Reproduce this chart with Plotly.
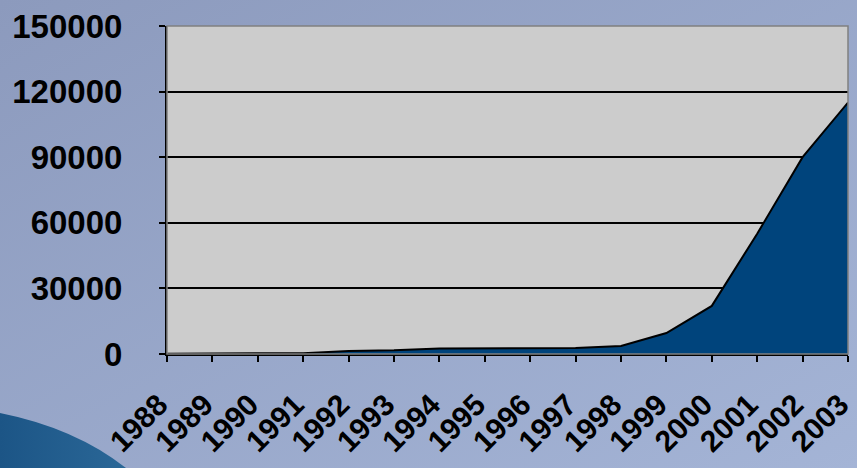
import base64
import plotly.graph_objects as go

years = [str(y) for y in range(1988, 2004)]
values = [100, 150, 200, 400, 1400, 1700, 2500, 2600, 2600, 2700, 3700, 9600, 22000, 55000, 90000, 115000]
y_ticks = [0, 30000, 60000, 90000, 120000, 150000]

W, H = 857, 468
L, R, T, B = 167, 9, 26, 114
pw, ph = W - L - R, H - T - B

bg_svg = f'''<svg xmlns="http://www.w3.org/2000/svg" width="{W}" height="{H}" viewBox="0 0 {W} {H}" preserveAspectRatio="none">
<defs>
<linearGradient id="g" x1="0" y1="0" x2="1" y2="1">
<stop offset="0" stop-color="#8C9ABD"/>
<stop offset="1" stop-color="#A4B4D6"/>
</linearGradient>
<linearGradient id="s" x1="0" y1="0" x2="1" y2="0">
<stop offset="0" stop-color="#1C5586"/>
<stop offset="1" stop-color="#2A6797"/>
</linearGradient>
</defs>
<rect x="0" y="0" width="{W}" height="{H}" fill="url(#g)"/>
<path d="M0,413 Q75,428 126,468 L0,468 Z" fill="url(#s)"/>
</svg>'''
bg_src = "data:image/svg+xml;base64," + base64.b64encode(bg_svg.encode()).decode()

fig = go.Figure()
fig.add_trace(go.Scatter(
    x=years, y=values, mode="lines", fill="tozeroy",
    fillcolor="#00447C", line=dict(color="black", width=2),
    hoverinfo="skip", showlegend=False,
))

font = dict(family="Liberation Sans, Arial", size=33, color="black", weight="bold")

fig.update_layout(
    width=W, height=H,
    margin=dict(l=L, r=R, t=T, b=B, autoexpand=False),
    paper_bgcolor="#98A7C8",
    plot_bgcolor="rgba(0,0,0,0)",
    images=[dict(source=bg_src, xref="paper", yref="paper",
                 x=-L / pw, y=1 + T / ph, sizex=W / pw, sizey=H / ph,
                 xanchor="left", yanchor="top", sizing="stretch", layer="below")],
    shapes=[
        dict(type="rect", xref="paper", yref="paper", x0=0, x1=1, y0=0, y1=1,
             fillcolor="#CCCCCC", line=dict(width=0), layer="below"),
        dict(type="rect", xref="paper", yref="paper", x0=0, x1=1, y0=0, y1=1,
             line=dict(color="#808080", width=1.5), layer="above"),
    ],
    xaxis=dict(
        type="category", range=[0, len(years) - 1], automargin=False,
        showgrid=False, zeroline=False,
        showline=True, linecolor="black", linewidth=2,
        ticks="outside", ticklen=6, tickwidth=2, tickcolor="black",
        tickangle=-45, tickfont=dict(font, size=30),
        ticklabelstandoff=13, ticklabelshift=-8,
    ),
    yaxis=dict(
        range=[0, 150000], tickvals=y_ticks, tickformat="d", automargin=False,
        showgrid=True, gridcolor="black", gridwidth=2,
        zeroline=False,
        showline=True, linecolor="black", linewidth=2,
        ticks="outside", ticklen=6, tickwidth=2, tickcolor="black",
        tickfont=font, ticklabelstandoff=30,
    ),
)

fig.write_html("out.html")
